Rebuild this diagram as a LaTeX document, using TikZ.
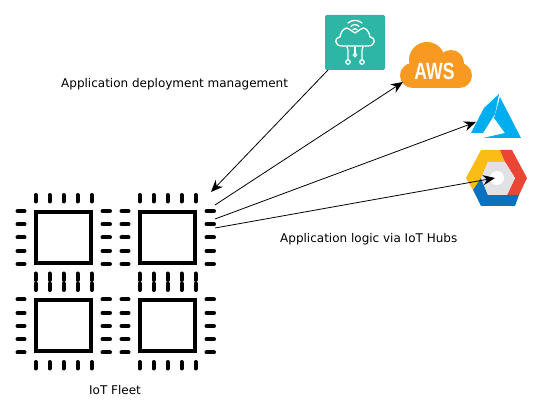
\documentclass[tikz,border=0pt]{standalone}
\usepackage{fontspec}
\setmainfont{DejaVu Sans}
\newfontfamily\awsfont{Liberation Sans}
\usetikzlibrary{arrows.meta, positioning}
\definecolor{iotcolor}{RGB}{45, 181, 166}
\definecolor{awscolor}{RGB}{248, 153, 34}
\definecolor{azurecolor}{RGB}{0, 174, 239}
\definecolor{gcpyellow}{RGB}{251, 188, 21}
\definecolor{gcpred}{RGB}{234, 70, 53}
\definecolor{gcpblue}{RGB}{10, 113, 190}
\definecolor{gcpgrey}{RGB}{225, 226, 228}

\begin{document}
\begin{tikzpicture}[
    x=1pt, y=-1pt,
    chip/.style={draw, line width=4pt, minimum width=55pt, minimum height=51pt, inner sep=0pt},
    pin/.style={line width=4pt, line cap=round},
    label/.style={font=\fontsize{12pt}{14pt}\selectfont, inner sep=0pt},
    link/.style={-{Stealth[length=12pt, width=10pt]}, line width=0.8pt},
    iotbox/.style={fill=iotcolor, rounded corners=1.5pt, minimum width=60pt, minimum height=55pt, inner sep=0pt},
    iotline/.style={draw=white, line width=1.3pt, line cap=round, line join=round}
]
    \useasboundingbox (0, 0) rectangle (542, 414);

    % Fleet
    \node[chip] (chipa) at (63.5, 237.5) {};
    \node[chip] (chipb) at (167.5, 237.5) {};
    \node[chip] (chipc) at (63.5, 326) {};
    \node[chip] (chipd) at (167.5, 326) {};
    \foreach \cx/\cy in {63.5/237.5, 167.5/237.5, 63.5/326, 167.5/326} {
        \foreach \off in {-28, -14, 0, 14, 28} {
            \draw[pin] (\cx+\off, \cy-42.5) -- (\cx+\off, \cy-36);
            \draw[pin] (\cx+\off, \cy+36) -- (\cx+\off, \cy+42.5);
        }
        \foreach \off in {-26.5, -13.25, 0, 13.25, 26.5} {
            \draw[pin] (\cx-46, \cy+\off) -- (\cx-39, \cy+\off);
            \draw[pin] (\cx+39, \cy+\off) -- (\cx+46.5, \cy+\off);
        }
    }

    % IoT icon
    \node[iotbox] (iot) at (355, 42.5) {};
    \draw[iotline] (342, 46) .. controls (334, 46) and (334, 37) .. (340, 37)
        .. controls (341, 30) and (346, 26) .. (349, 29) -- (355, 33) -- (361, 29)
        .. controls (364, 26) and (369, 30) .. (370, 37)
        .. controls (376, 37) and (376, 46) .. (368, 46) -- cycle;
    \draw[iotline] (348, 23) .. controls (352, 19.5) and (358, 19.5) .. (362, 23);
    \draw[iotline] (351, 26.5) .. controls (353, 24) and (357, 24) .. (359, 26.5);
    \draw[iotline] (353, 29.5) .. controls (354, 28.5) and (356, 28.5) .. (357, 29.5);
    \draw[iotline] (355, 47) -- (355, 53);
    \draw[iotline] (347, 47) -- (348, 50) -- (348, 59.5);
    \draw[iotline] (363, 47) -- (362, 50) -- (362, 59.5);
    \draw[iotline] (355, 55) circle (1.8);
    \draw[iotline] (348, 62) circle (2.2);
    \draw[iotline] (362, 62) circle (2.2);

    % AWS icon
    \fill[awscolor] (412, 63) rectangle (460, 88);
    \fill[awscolor] (412.5, 75.5) circle (12.5);
    \fill[awscolor] (459.5, 75.5) circle (12.5);
    \fill[awscolor] (427, 60) circle (18);
    \fill[awscolor] (451, 63) circle (13);
    \node[font=\fontsize{23.5pt}{24pt}\awsfont\bfseries, text=white, inner sep=0pt, xscale=0.75] (aws) at (434.5, 71.5) {AWS};

    % Azure icon
    \fill[azurecolor] (499, 94) -- (484, 108) -- (471, 133) -- (483, 133) -- (495, 114) -- cycle;
    \fill[azurecolor] (500, 97) -- (521, 138) -- (483, 138) -- (505, 133) -- (494, 118) -- cycle;
    \coordinate (azure) at (476, 122);

    % Google Cloud icon
    \fill[gcpyellow] (466, 178) -- (481, 150) -- (500, 150) -- (505, 162) -- (488, 162) -- (481, 178) -- (473, 190) -- cycle;
    \fill[gcpred] (500, 150) -- (512, 150) -- (527, 178) -- (519, 195) -- (507, 195) -- (515, 178) -- (505, 162) -- cycle;
    \fill[gcpblue] (473, 190) -- (481, 178) -- (488, 195) -- (519, 195) -- (515, 206) -- (481, 206) -- cycle;
    \fill[gcpgrey] (481, 178) -- (488, 162) -- (505, 162) -- (515, 178) -- (507, 195) -- (488, 195) -- cycle;
    \fill[white] (497, 178) circle (7);
    \coordinate (gcp) at (495, 178);

    % Connections
    \coordinate (fleetin) at (211, 192);
    \coordinate (outaws) at (215, 205);
    \coordinate (outazure) at (215, 219);
    \coordinate (outgcp) at (215, 228);
    \coordinate (awsin) at (403, 82);
    \coordinate (iotout) at (328, 70);
    \draw[link] (iotout) -- (fleetin);
    \draw[link] (outaws) -- (awsin);
    \draw[link] (outazure) -- (azure);
    \draw[link] (outgcp) -- (gcp);

    % Labels
    \node[label, anchor=west] (deploy) at (61, 84) {Application deployment management};
    \node[label, anchor=west] (logic) at (280, 239) {Application logic via IoT Hubs};
    \node[label] (fleet) at (115, 390) {IoT Fleet};
\end{tikzpicture}
\end{document}
